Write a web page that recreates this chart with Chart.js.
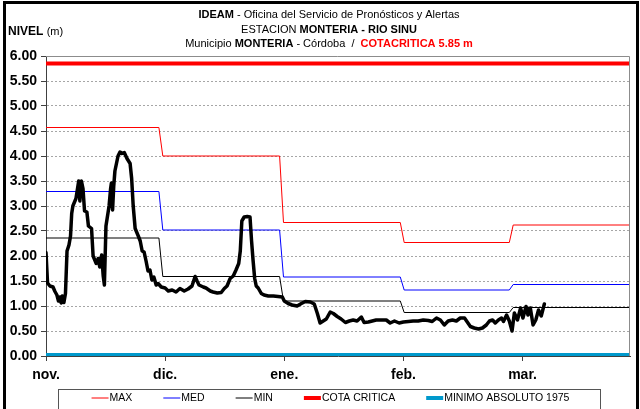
<!DOCTYPE html>
<html lang="es">
<head>
    <meta charset="UTF-8">
    <title>Nivel Rio Sinu - Monteria</title>
    <script src="https://cdn.jsdelivr.net/npm/chart.js"></script>
    <style>
        html, body {
            margin: 0;
            padding: 0;
            background: #fff;
        }
        canvas {
            display: block;
        }
    </style>
</head>
<body>
    <canvas id="nivelChart" width="640" height="409"></canvas>

    <script>
        // eje x en dias contados desde el 1 de noviembre
        const MESES = ['nov.', 'dic.', 'ene.', 'feb.', 'mar.'];
        const TICKS_DIA = [0, 30.6, 61.2, 91.8, 122.4];
        const INICIO_MES = [0, 30, 61, 92, 120];
        const ULTIMO_DIA = 150;

        // niveles historicos mensuales (m)
        const NIVEL_MAX = [4.57, 4.00, 2.67, 2.27, 2.62];
        const NIVEL_MED = [3.29, 2.52, 1.58, 1.32, 1.43];
        const NIVEL_MIN = [2.36, 1.59, 1.10, 0.87, 0.97];
        const COTA_CRITICA = 5.85;
        const MINIMO_1975 = 0.02;

        // nivel observado en la estacion
        const DIAS = [
            0, 0.4, 1.0, 1.8, 2.3, 2.8, 3.2, 3.6, 3.9, 4.2, 4.6, 5.0, 5.4, 5.9, 6.3, 6.6, 6.9, 7.7, 8.4, 8.7,
            9.1, 9.5, 9.9, 10.5, 10.9, 11.7, 12.1, 12.9, 13.4, 13.8, 14.3, 14.7, 15.0, 15.4, 15.7, 16.2, 16.6, 16.8, 17.1, 17.4,
            17.7, 18.5, 19.0, 19.5, 20.1, 20.8, 21.6, 22.0, 22.4, 22.9, 23.7, 24.2, 24.7, 25.2, 25.7, 26.2, 26.7, 27.2, 27.7, 28.3,
            28.8, 29.6, 30.6, 31.4, 32.4, 33.4, 34.4, 35.5, 36.5, 37.5, 38.3, 38.8, 39.3, 40.4, 41.1, 42.2, 42.9, 44.0, 45.0, 45.8,
            46.5, 47.3, 48.1, 48.8, 49.5, 49.9, 50.3, 50.9, 51.7, 52.4, 52.8, 53.2, 53.6, 54.0, 54.5, 55.3, 56.0, 57.1, 58.4, 59.6,
            60.7, 61.2, 62.2, 63.2, 64.5, 65.6, 66.6, 67.9, 68.9, 69.7, 70.4, 71.2, 72.0, 73.0, 73.8, 74.8, 75.8, 76.9, 77.9, 78.9,
            79.9, 81.0, 81.7, 82.8, 83.8, 84.8, 86.1, 87.4, 88.4, 89.5, 90.7, 91.8, 93.1, 94.3, 95.6, 96.9, 98.2, 99.2, 100.3, 101.3,
            102.3, 103.3, 104.4, 105.4, 106.4, 107.5, 108.2, 109.0, 110.0, 111.1, 112.1, 113.1, 113.9, 114.7, 115.4, 116.2, 117.0, 117.5, 118.3, 119.0,
            119.7, 120.3, 121.1, 121.9, 122.5, 123.3, 123.8, 124.4, 125.1, 125.8, 126.5, 127.2, 128.0
        ];
        const NIVEL = [
            2.07, 1.46, 1.40, 1.38, 1.29, 1.22, 1.10, 1.18, 1.06, 1.20, 1.07, 1.25, 2.10, 2.22, 2.40, 2.85, 3.00, 3.15, 3.50, 3.10,
            3.50, 3.35, 2.90, 2.88, 2.60, 2.55, 2.00, 1.85, 1.95, 1.78, 2.02, 1.60, 1.42, 2.60, 2.75, 3.00, 3.35, 3.46, 2.92, 3.40,
            3.70, 4.00, 4.08, 4.05, 4.07, 3.95, 3.85, 3.55, 3.00, 2.55, 2.40, 2.30, 2.10, 2.08, 1.90, 1.70, 1.72, 1.52, 1.58, 1.42,
            1.45, 1.38, 1.36, 1.30, 1.32, 1.28, 1.35, 1.30, 1.34, 1.40, 1.59, 1.50, 1.42, 1.38, 1.36, 1.30, 1.28, 1.26, 1.27, 1.35,
            1.40, 1.55, 1.60, 1.72, 1.85, 2.10, 2.70, 2.78, 2.79, 2.78, 2.30, 1.90, 1.55, 1.40, 1.36, 1.25, 1.22, 1.20, 1.20, 1.19,
            1.18, 1.10, 1.05, 1.02, 1.00, 1.05, 1.09, 1.08, 1.04, 0.85, 0.66, 0.70, 0.74, 0.88, 0.85, 0.79, 0.74, 0.67, 0.70, 0.72,
            0.70, 0.78, 0.67, 0.68, 0.70, 0.72, 0.72, 0.72, 0.66, 0.70, 0.66, 0.68, 0.69, 0.70, 0.70, 0.72, 0.71, 0.69, 0.76, 0.72,
            0.62, 0.70, 0.72, 0.70, 0.76, 0.76, 0.68, 0.59, 0.56, 0.54, 0.56, 0.62, 0.70, 0.72, 0.66, 0.72, 0.76, 0.69, 0.82, 0.70,
            0.50, 0.86, 0.72, 0.96, 0.76, 0.99, 0.82, 0.96, 0.62, 0.72, 0.92, 0.80, 1.04
        ];

        const FUENTE = '"Liberation Sans", Arial, sans-serif';

        // convierte los valores mensuales en una linea escalonada
        function escalones(valores) {
            const puntos = [];
            valores.forEach((v, i) => {
                const fin = i < valores.length - 1 ? INICIO_MES[i + 1] - 1 : ULTIMO_DIA;
                puntos.push({ x: INICIO_MES[i], y: v }, { x: fin, y: v });
            });
            return puntos;
        }

        function constante(v) {
            return [{ x: 0, y: v }, { x: ULTIMO_DIA, y: v }];
        }

        // escribe una linea de texto con tramos de distinto estilo, centrada en cx
        function lineaMixta(ctx, tramos, cx, y) {
            let total = 0;
            tramos.forEach(t => {
                ctx.font = (t.negrita ? 'bold ' : '') + '11px ' + FUENTE;
                t.ancho = ctx.measureText(t.texto).width;
                total += t.ancho;
            });
            let x = cx - total / 2;
            tramos.forEach(t => {
                ctx.font = (t.negrita ? 'bold ' : '') + '11px ' + FUENTE;
                ctx.fillStyle = t.color || '#000';
                ctx.fillText(t.texto, x, y);
                x += t.ancho;
            });
        }

        const decoracion = {
            id: 'decoracion',
            beforeDraw(chart) {
                const ctx = chart.ctx;
                ctx.save();
                ctx.fillStyle = '#fff';
                ctx.fillRect(0, 0, chart.width, chart.height);
                ctx.restore();
            },
            afterDraw(chart) {
                const { ctx, chartArea: a } = chart;
                ctx.save();

                // borde superior y derecho del area de trazado
                ctx.strokeStyle = '#8c8c8c';
                ctx.lineWidth = 1;
                ctx.beginPath();
                ctx.moveTo(a.left, a.top + 0.5);
                ctx.lineTo(a.right - 0.5, a.top + 0.5);
                ctx.lineTo(a.right - 0.5, a.bottom);
                ctx.stroke();

                // marco exterior
                ctx.strokeStyle = '#000';
                ctx.lineWidth = 3;
                ctx.strokeRect(4.5, 2.5, 633, 420);

                // titulo
                ctx.textBaseline = 'middle';
                ctx.textAlign = 'left';
                lineaMixta(ctx, [
                    { texto: 'IDEAM', negrita: true },
                    { texto: ' - Oficina del Servicio de Pronósticos y Alertas' }
                ], 329, 15);
                lineaMixta(ctx, [
                    { texto: 'ESTACION ' },
                    { texto: 'MONTERIA - RIO SINU', negrita: true }
                ], 329, 30);
                lineaMixta(ctx, [
                    { texto: 'Municipio ' },
                    { texto: 'MONTERIA', negrita: true },
                    { texto: ' - Córdoba  /  ' },
                    { texto: 'COTACRITICA 5.85 m', negrita: true, color: '#ff0000' }
                ], 329, 44);

                ctx.font = 'bold 12px ' + FUENTE;
                ctx.fillStyle = '#000';
                ctx.fillText('NIVEL', 8, 32);
                const anchoNivel = ctx.measureText('NIVEL ').width;
                ctx.font = '11px ' + FUENTE;
                ctx.fillText('(m)', 8 + anchoNivel, 32);

                // leyenda
                const items = chart.data.datasets.filter(d => d.enLeyenda);
                const muestra = 17, hueco = 32, yl = 398;
                ctx.font = '10.5px ' + FUENTE;
                const anchos = items.map(d => ctx.measureText(d.label).width);
                const total = anchos.reduce((s, w) => s + w + muestra, 0) + hueco * (items.length - 1);
                let x = 330 - total / 2;

                ctx.fillStyle = '#fff';
                ctx.fillRect(58, 389, 542, 22);
                ctx.strokeStyle = '#555';
                ctx.lineWidth = 1;
                ctx.strokeRect(58.5, 389.5, 542, 22);

                items.forEach((d, i) => {
                    ctx.strokeStyle = d.borderColor;
                    ctx.lineWidth = d.borderWidth;
                    ctx.beginPath();
                    ctx.moveTo(x, yl);
                    ctx.lineTo(x + muestra, yl);
                    ctx.stroke();
                    ctx.fillStyle = '#000';
                    ctx.fillText(d.label, x + muestra + 1, yl + 0.5);
                    x += muestra + anchos[i] + hueco;
                });

                ctx.restore();
            }
        };

        const ctx = document.getElementById('nivelChart').getContext('2d');
        const nivelChart = new Chart(ctx, {
            type: 'line',
            data: {
                datasets: [
                    {
                        label: 'NIVEL',
                        data: DIAS.map((d, i) => ({ x: d, y: NIVEL[i] })),
                        borderColor: '#000',
                        borderWidth: 3.5,
                        borderJoinStyle: 'round',
                        borderCapStyle: 'round'
                    },
                    { label: 'MAX', data: escalones(NIVEL_MAX), borderColor: '#ff0000', borderWidth: 1, enLeyenda: true },
                    { label: 'MED', data: escalones(NIVEL_MED), borderColor: '#0000ff', borderWidth: 1, enLeyenda: true },
                    { label: 'MIN', data: escalones(NIVEL_MIN), borderColor: '#000', borderWidth: 1, enLeyenda: true },
                    { label: 'COTA CRITICA', data: constante(COTA_CRITICA), borderColor: '#ff0000', borderWidth: 4, enLeyenda: true },
                    { label: 'MINIMO ABSOLUTO 1975', data: constante(MINIMO_1975), borderColor: '#0099cc', borderWidth: 4, enLeyenda: true }
                ]
            },
            options: {
                responsive: false,
                animation: false,
                events: [],
                elements: {
                    point: { radius: 0 },
                    line: { tension: 0, fill: false }
                },
                layout: {
                    padding: { top: 56, right: 10, left: 0, bottom: 0 }
                },
                plugins: {
                    legend: { display: false },
                    tooltip: { enabled: false }
                },
                scales: {
                    x: {
                        type: 'linear',
                        min: 0,
                        max: ULTIMO_DIA,
                        afterBuildTicks: scale => {
                            scale.ticks = TICKS_DIA.map(v => ({ value: v }));
                        },
                        afterFit: scale => {
                            scale.height = 53;
                        },
                        ticks: {
                            autoSkip: false,
                            maxRotation: 0,
                            padding: 6,
                            color: '#000',
                            font: { family: FUENTE, size: 14, weight: 'bold' },
                            callback: (v, i) => MESES[i]
                        },
                        grid: {
                            drawOnChartArea: false,
                            tickLength: 5,
                            tickColor: '#404040'
                        },
                        border: { color: '#404040' }
                    },
                    y: {
                        min: 0,
                        max: 6,
                        afterFit: scale => {
                            scale.width = 46;
                        },
                        ticks: {
                            stepSize: 0.5,
                            padding: 4,
                            color: '#000',
                            font: { family: FUENTE, size: 14, weight: 'bold' },
                            callback: v => v.toFixed(2)
                        },
                        grid: {
                            color: c => (c.tick && (c.tick.value === 0 || c.tick.value === 6)) ? 'rgba(0,0,0,0)' : '#a6a6a6',
                            tickLength: 5,
                            tickColor: '#404040',
                            tickBorderDash: []
                        },
                        border: { color: '#404040', dash: [2, 2] }
                    }
                }
            },
            plugins: [decoracion]
        });
    </script>
</body>
</html>
